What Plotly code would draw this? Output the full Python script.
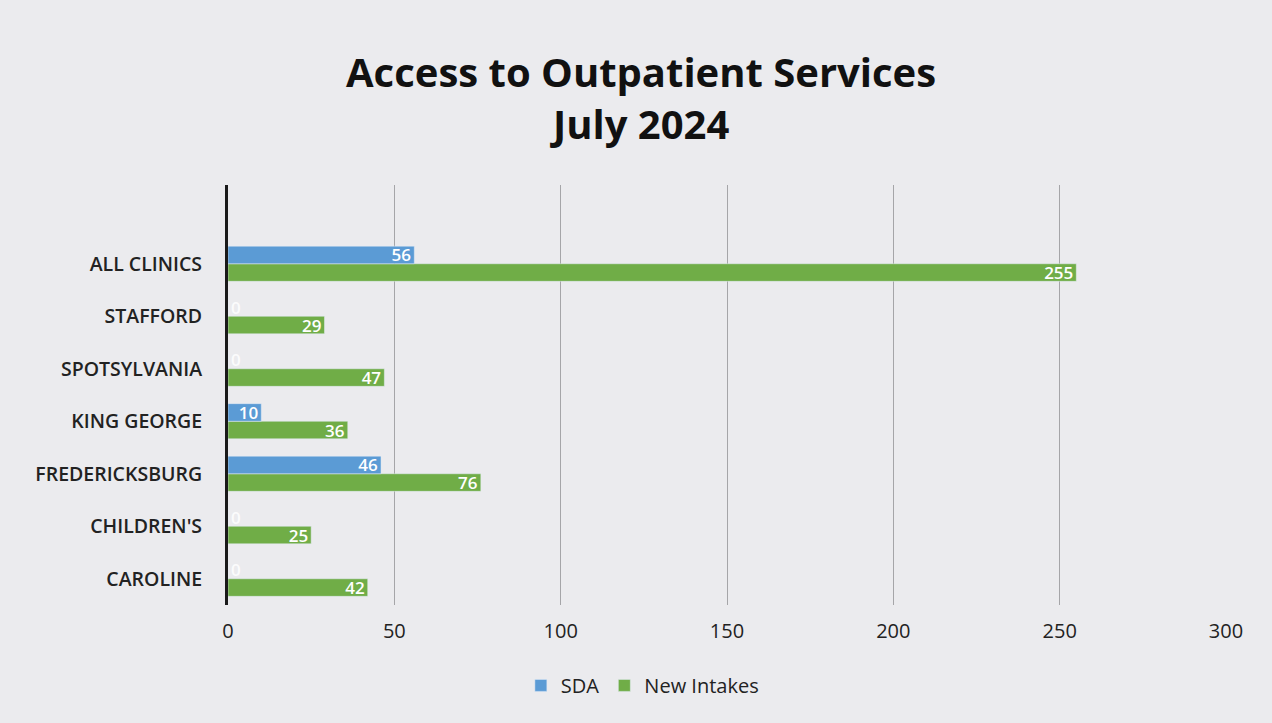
import plotly.graph_objects as go

# Clinics, listed bottom to top as drawn on the category axis
clinics = ["CAROLINE", "CHILDREN'S", "FREDERICKSBURG", "KING GEORGE",
           "SPOTSYLVANIA", "STAFFORD", "ALL CLINICS"]
sda = [0, 0, 46, 10, 0, 0, 56]
new_intakes = [42, 25, 76, 36, 47, 29, 255]
x_ticks = [0, 50, 100, 150, 200, 250, 300]

BLUE = "#5b9bd5"
GREEN = "#70ad47"
BG = "#ebebee"
FONT = "Open Sans"


def label_positions(values):
    return ["inside" if v > 0 else "outside" for v in values]


bar_text_font = dict(color="white", size=17, family=FONT, weight=600)
zero_text_font = dict(bar_text_font, color="rgba(255,255,255,0.85)")

fig = go.Figure()

# Within each clinic the first trace sits lower, so New Intakes goes first
fig.add_trace(go.Bar(
    y=clinics, x=new_intakes, name="New Intakes", orientation="h",
    marker=dict(color=GREEN), text=new_intakes,
    textposition=label_positions(new_intakes), insidetextanchor="end",
    textangle=0, constraintext="none",
    textfont=bar_text_font, outsidetextfont=zero_text_font,
    legendrank=2, cliponaxis=False,
))
fig.add_trace(go.Bar(
    y=clinics, x=sda, name="SDA", orientation="h",
    marker=dict(color=BLUE), text=sda,
    textposition=label_positions(sda), insidetextanchor="end",
    textangle=0, constraintext="none",
    textfont=bar_text_font, outsidetextfont=zero_text_font,
    legendrank=1, cliponaxis=False,
))

fig.update_layout(
    width=1272, height=723,
    paper_bgcolor=BG, plot_bgcolor=BG,
    margin=dict(l=228, r=46, t=185, b=118),
    barmode="group", bargap=0.33, bargroupgap=0,
    title=dict(
        text="<b>Access to Outpatient Services<br>July 2024</b>",
        x=0.504, xanchor="center", y=0.88, yanchor="top",
        font=dict(family=FONT, size=40, color="#111111"),
    ),
    font=dict(family=FONT, color="#222222"),
    legend=dict(
        orientation="h", xref="container", x=0.505, xanchor="center",
        yref="container", y=0.052, yanchor="middle",
        font=dict(size=20, color="#222222"), bgcolor="rgba(0,0,0,0)",
    ),
    xaxis=dict(
        range=[0, 300], tickvals=x_ticks, showgrid=True,
        gridcolor="#a5a5a8", gridwidth=1, zeroline=False,
        tickfont=dict(size=20, color="#222222"), ticks="", ticklabelstandoff=12,
    ),
    yaxis=dict(
        range=[-0.5, 7.5],
        showline=True, linecolor="#1a1a1a", linewidth=3,
        tickfont=dict(size=19.5, color="#222222", weight=600), ticks="",
        ticklabelstandoff=19,
    ),
)

fig.write_html("out.html")
